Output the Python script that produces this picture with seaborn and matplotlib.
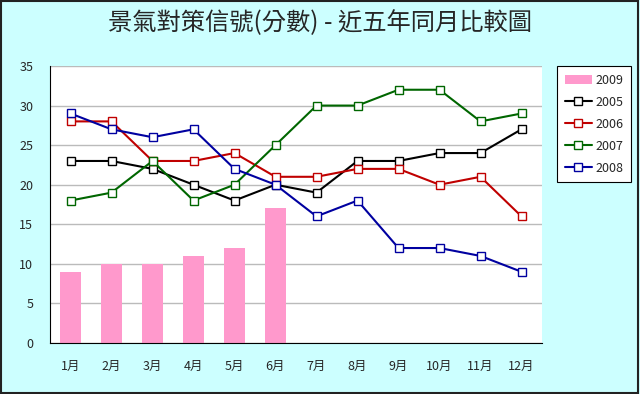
import numpy as np
import pandas as pd
import matplotlib
matplotlib.use("Agg")
import matplotlib.pyplot as plt
from matplotlib.patches import Rectangle, Patch
from matplotlib.lines import Line2D
import seaborn as sns

months = ["1月", "2月", "3月", "4月", "5月", "6月", "7月", "8月", "9月", "10月", "11月", "12月"]
y2009 = [9, 10, 10, 11, 12, 17]
y2005 = [23, 23, 22, 20, 18, 20, 19, 23, 23, 24, 24, 27]
y2006 = [28, 28, 23, 23, 24, 21, 21, 22, 22, 20, 21, 16]
y2007 = [18, 19, 23, 18, 20, 25, 30, 30, 32, 32, 28, 29]
y2008 = [29, 27, 26, 27, 22, 20, 16, 18, 12, 12, 11, 9]

sns.set_style("white")
plt.rcParams["font.family"] = ["Noto Sans CJK TC", "DejaVu Sans"]

bg = "#CCFFFF"
fig = plt.figure(figsize=(6.4, 3.94), dpi=100, facecolor=bg)
ax = fig.add_axes([50 / 640, 1 - 343 / 394, 492 / 640, 277 / 394])
ax.set_facecolor("white")

xs = np.arange(len(months))
bar_df = pd.DataFrame({"x": xs[:len(y2009)], "v": y2009})
sns.barplot(data=bar_df, x="x", y="v", color="#FF99CC", width=0.5,
            saturation=1, ax=ax, native_scale=True, edgecolor="none")

series = [("2005", y2005, "black"), ("2006", y2006, "#C00000"),
          ("2007", y2007, "#006600"), ("2008", y2008, "#0000A0")]
for name, vals, col in series:
    df = pd.DataFrame({"x": xs, "v": vals})
    sns.lineplot(data=df, x="x", y="v", color=col, lw=1.5, marker="s",
                 markersize=5.5, markerfacecolor="white", markeredgecolor=col,
                 markeredgewidth=1.0, ax=ax)

ax.set_xlim(-0.5, 11.5)
ax.set_ylim(0, 35)
ax.set_yticks(range(0, 36, 5))
ax.set_xticks(xs)
ax.set_xticklabels(months, fontsize=9)
ax.tick_params(axis="y", labelsize=9, length=0, pad=12)
ax.tick_params(axis="x", length=0, pad=12)
ax.set_xticks(np.arange(-0.5, 12, 1), minor=True)
ax.tick_params(axis="x", which="minor", length=4, direction="out", color="black")
ax.grid(axis="y", color="#BBBBBB", lw=1)
ax.set_axisbelow(True)
for s in ["top", "right"]:
    ax.spines[s].set_visible(False)
ax.spines["left"].set_color("black")
ax.spines["bottom"].set_color("black")
ax.set_xlabel("")
ax.set_ylabel("")

handles = [Patch(facecolor="#FF99CC", edgecolor="none", label="2009")]
for name, vals, col in series:
    handles.append(Line2D([], [], color=col, lw=1.5, marker="s", markersize=5.5,
                          markerfacecolor="white", markeredgecolor=col, label=name))
leg = fig.legend(handles=handles, loc="upper left",
                 bbox_to_anchor=(557 / 640, 1 - 66 / 394),
                 fontsize=9, frameon=True, fancybox=False, framealpha=1,
                 edgecolor="black", borderpad=0.6, labelspacing=0.72,
                 handlelength=2.2, handletextpad=0.3, borderaxespad=0)
leg.get_frame().set_linewidth(0.8)

fig.text(0.5, 1 - 23 / 394, "景氣對策信號(分數) - 近五年同月比較圖",
         ha="center", va="center", fontsize=17.5)

fig.patches.append(Rectangle((0.002, 0.003), 0.995, 0.994, transform=fig.transFigure,
                             fill=False, edgecolor="#222222", lw=1.5))

fig.savefig("out.png", dpi=100, facecolor=bg)
